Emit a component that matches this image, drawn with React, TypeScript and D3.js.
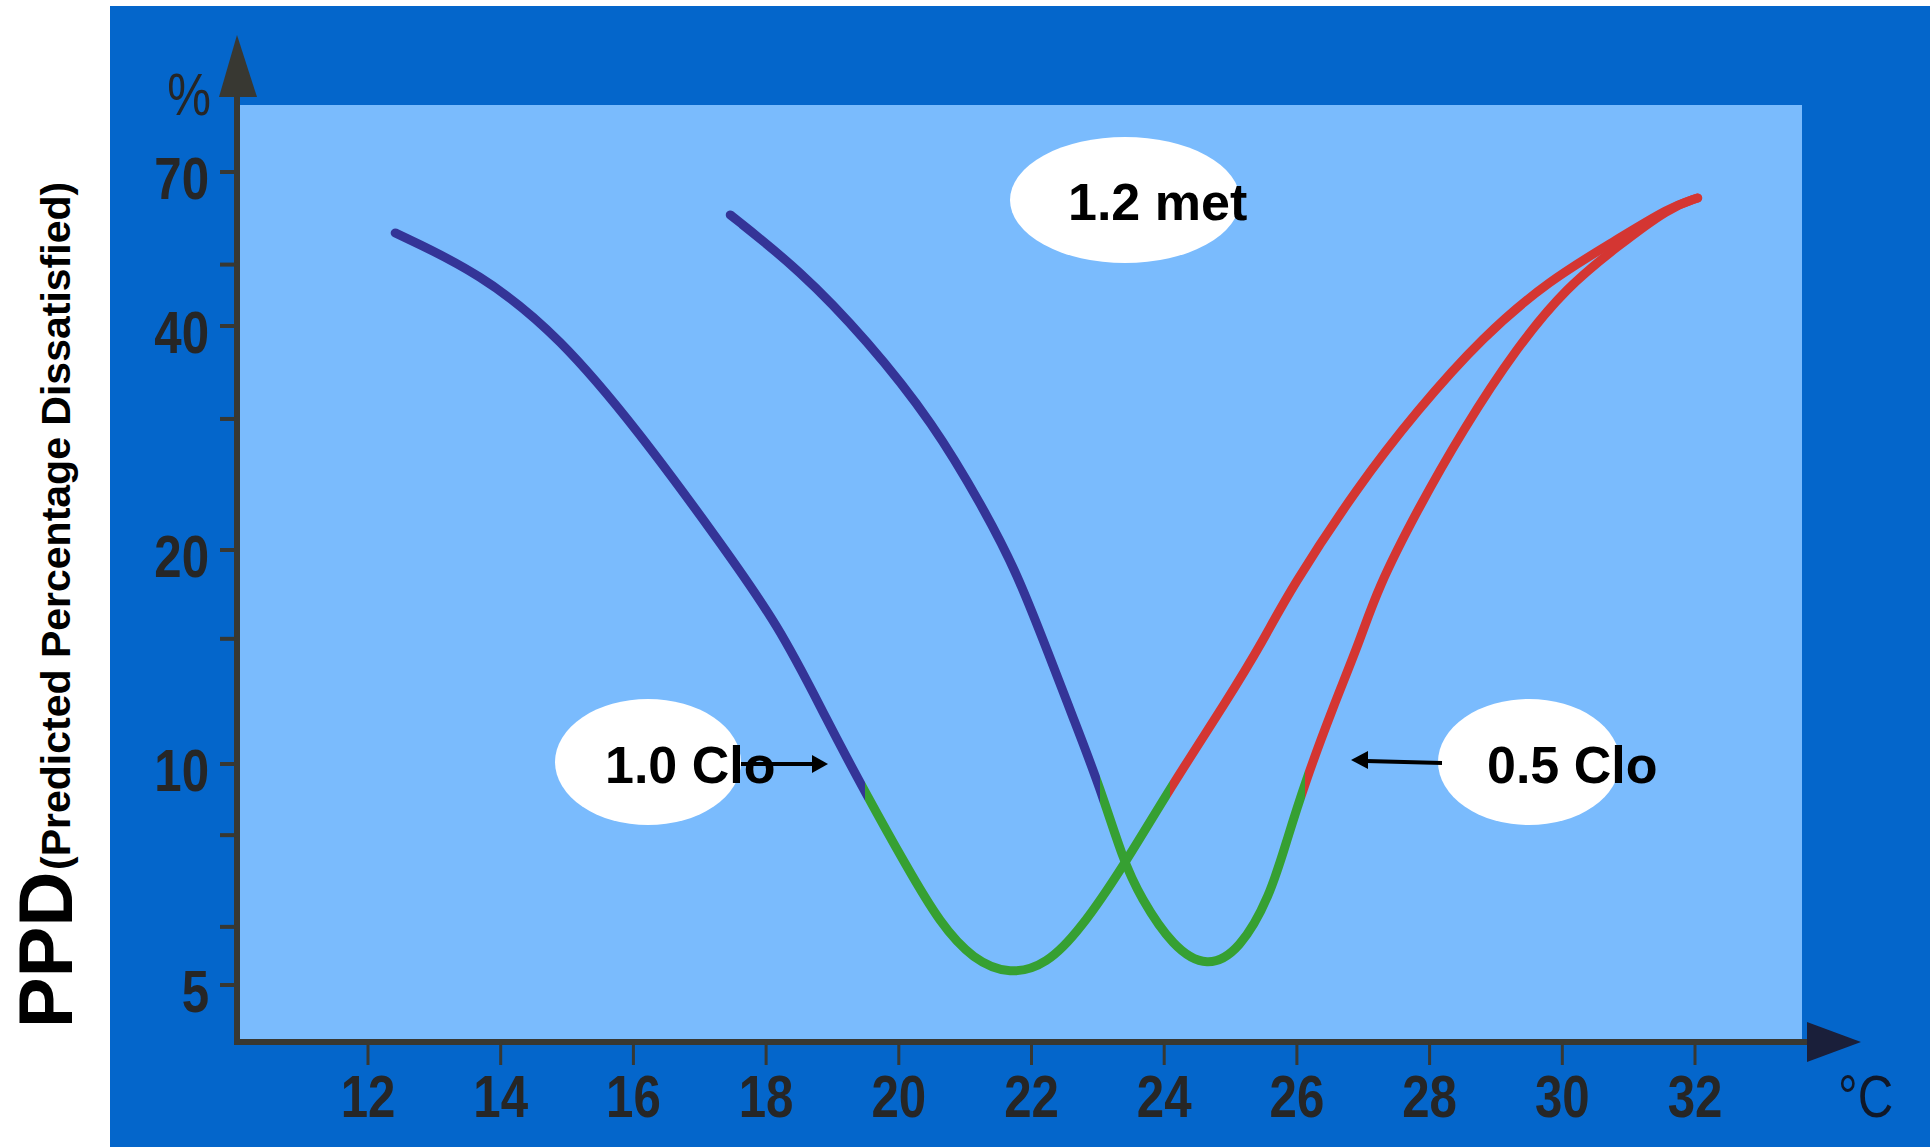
import React, { useEffect } from "react";
import * as d3 from "d3";

// ---- data ----
const xTicks = [12, 14, 16, 18, 20, 22, 24, 26, 28, 30, 32];
const yTicksLabeled = [5, 10, 20, 40, 70];
const yTicksMinor = [6, 8, 15, 30, 50];

// 1.0 Clo curve
const clo10Temp = [12.41, 13.69, 14.89, 16.1, 17.2, 18.21, 18.92, 19.49, 20.12, 20.62, 21.12, 21.68, 22.23, 22.73, 23.38, 24.09, 24.95, 25.49, 25.9, 26.91, 27.81, 28.8, 29.81, 30.82, 31.62, 32.04];
const clo10Ppd = [56.1, 48.5, 38.7, 28.7, 21.1, 15.6, 11.5, 9.16, 7.24, 6.07, 5.41, 5.16, 5.33, 5.94, 7.24, 9.28, 12.3, 14.9, 17.6, 24.3, 30.8, 38.7, 47.3, 54.7, 61.6, 63.7];
const clo10Zone = [19.49, 24.09];

// 0.5 Clo curve
const clo05Temp = [17.46, 18.51, 19.52, 20.52, 21.27, 21.78, 22.28, 22.63, 23.03, 23.38, 23.64, 24.13, 24.65, 25.14, 25.59, 25.85, 26.12, 26.54, 26.95, 27.21, 27.81, 28.5, 29.32, 30.07, 30.82, 31.62, 32.04];
const clo05Ppd = [59.9, 49.0, 38.3, 29.6, 22.8, 18.6, 14.1, 11.6, 9.31, 7.4, 6.59, 5.63, 5.27, 5.58, 6.59, 7.88, 9.42, 12.0, 14.9, 17.6, 22.6, 29.0, 37.5, 46.1, 53.3, 61.6, 63.7];
const clo05Zone = [23.03, 26.12];

const W = 1930;
const H = 1147;

const COLD = "#343497";
const COMFORT = "#36a032";
const WARM = "#d43632";
const AXIS = "#383832";
const LABEL = "#262626";

const x = d3.scaleLinear().domain([12, 32]).range([368, 1695]);
const y = d3.scaleLog().domain([5, 10, 20, 40, 70]).range([985, 764, 550, 326, 172]);

const line = d3
  .line<[number, number]>()
  .x((d) => x(d[0]))
  .y((d) => y(d[1]))
  .curve(d3.curveBasis);

const boldFont = "'Liberation Sans', Arial, sans-serif";
const NARROW = 0.82;

function Gradient({ id, zone }: { id: string; zone: number[] }) {
  const a = x(zone[0]) / W;
  const b = x(zone[1]) / W;
  return (
    <linearGradient id={id} gradientUnits="userSpaceOnUse" x1={0} y1={0} x2={W} y2={0}>
      <stop offset={0} stopColor={COLD} />
      <stop offset={a} stopColor={COLD} />
      <stop offset={a} stopColor={COMFORT} />
      <stop offset={b} stopColor={COMFORT} />
      <stop offset={b} stopColor={WARM} />
      <stop offset={1} stopColor={WARM} />
    </linearGradient>
  );
}

function NarrowText({ x: tx, y: ty, anchor, bold, children, fill }: any) {
  return (
    <g transform={`translate(${tx},${ty}) scale(${NARROW},1)`}>
      <text x={0} y={0} textAnchor={anchor} fontFamily={boldFont} fontWeight={bold ? "bold" : "normal"} fontSize={60} fill={fill}>
        {children}
      </text>
    </g>
  );
}

export default function App() {
  useEffect(() => {
    document.body.style.margin = "0";
  }, []);

  const c10 = clo10Temp.map((t, i) => [t, clo10Ppd[i]] as [number, number]);
  const c05 = clo05Temp.map((t, i) => [t, clo05Ppd[i]] as [number, number]);

  const axisY = 1042;
  const axisX = 237;

  return (
    <svg width={W} height={H} style={{ display: "block", position: "absolute", left: 0, top: 0 }}>
      <defs>
        <Gradient id="g10" zone={clo10Zone} />
        <Gradient id="g05" zone={clo05Zone} />
      </defs>
      <rect x={0} y={0} width={W} height={H} fill="#ffffff" />
      <rect x={110} y={6} width={W - 110} height={H - 6} fill="#0466cb" />
      <rect x={240} y={105} width={1562} height={934} fill="#7abbfd" />

      {/* curves */}
      <path d={line(c10) || ""} fill="none" stroke="url(#g10)" strokeWidth={9} strokeLinecap="round" strokeLinejoin="round" />
      <path d={line(c05) || ""} fill="none" stroke="url(#g05)" strokeWidth={9} strokeLinecap="round" strokeLinejoin="round" />

      {/* axes */}
      <line x1={axisX} y1={90} x2={axisX} y2={axisY + 3} stroke={AXIS} strokeWidth={6} />
      <path d={`M${axisX},35 L${axisX + 20},97 L${axisX - 18},97 Z`} fill={AXIS} />
      <line x1={axisX - 3} y1={axisY} x2={1815} y2={axisY} stroke={AXIS} strokeWidth={6} />
      <path d={`M1861,${axisY} L1807,${axisY - 20} L1807,${axisY + 20} Z`} fill="#1a1f3a" />

      {/* y ticks */}
      {yTicksLabeled.concat(yTicksMinor).map((v) => (
        <line key={"yt" + v} x1={220} x2={axisX} y1={y(v)} y2={y(v)} stroke={AXIS} strokeWidth={4} />
      ))}
      {yTicksLabeled.map((v) => (
        <NarrowText key={"yl" + v} x={209} y={y(v) + 27} anchor="end" bold fill={LABEL}>
          {v}
        </NarrowText>
      ))}
      <NarrowText x={211} y={115} anchor="end" fill={LABEL}>
        %
      </NarrowText>

      {/* x ticks */}
      {xTicks.map((v) => (
        <g key={"xt" + v}>
          <line x1={x(v)} x2={x(v)} y1={axisY} y2={1065} stroke={AXIS} strokeWidth={3} />
          <NarrowText x={x(v)} y={1117} anchor="middle" bold fill={LABEL}>
            {v}
          </NarrowText>
        </g>
      ))}
      <NarrowText x={1838} y={1117} anchor="start" fill="#101828">
        °C
      </NarrowText>

      {/* y title */}
      <text transform="translate(72,1028) rotate(-90)" fontFamily={boldFont} fontWeight="bold" fontSize={76} fill="#000">
        PPD
      </text>
      <text transform="translate(70,870) rotate(-90)" fontFamily={boldFont} fontWeight="bold" fontSize={41} fill="#000">
        (Predicted Percentage Dissatisfied)
      </text>

      {/* annotations */}
      <ellipse cx={1125} cy={200} rx={115} ry={63} fill="#fff" />
      <text x={1068} y={220} fontFamily={boldFont} fontWeight="bold" fontSize={52} fill="#000">
        1.2 met
      </text>

      <ellipse cx={648} cy={762} rx={93} ry={63} fill="#fff" />
      <text x={605} y={783} fontFamily={boldFont} fontWeight="bold" fontSize={52} fill="#000">
        1.0 Clo
      </text>
      <line x1={741} y1={764} x2={814} y2={764} stroke="#000" strokeWidth={4} />
      <path d="M828,764 L812,755 L812,773 Z" fill="#000" />

      <ellipse cx={1529} cy={762} rx={91} ry={63} fill="#fff" />
      <text x={1487} y={783} fontFamily={boldFont} fontWeight="bold" fontSize={52} fill="#000">
        0.5 Clo
      </text>
      <line x1={1442} y1={763} x2={1366} y2={761} stroke="#000" strokeWidth={4} />
      <path d="M1351,760 L1368,751 L1368,769 Z" fill="#000" />
    </svg>
  );
}
